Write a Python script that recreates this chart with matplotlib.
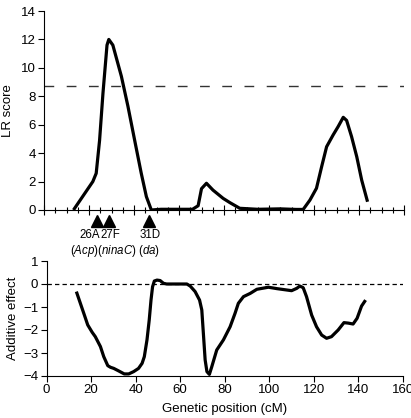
import matplotlib
matplotlib.use("Agg")
import matplotlib.pyplot as plt
from matplotlib.ticker import MultipleLocator

plt.rcParams['font.family'] = ['Liberation Sans', 'DejaVu Sans']
plt.rcParams['mathtext.fontset'] = 'custom'
plt.rcParams['mathtext.it'] = 'Liberation Sans:italic'
plt.rcParams['mathtext.rm'] = 'Liberation Sans'

# LR score profile
lr_x = [13.1, 21.7, 23.2, 24.7, 26.2, 28.0, 28.8, 30.6, 34.4, 37.3, 40.3, 43.2, 45.5, 47.7,
        52.0, 60.0, 66.0, 68.5, 70.0, 72.2, 75.1, 79.6, 82.6, 87.0, 95.0, 105.0, 112.0, 115.2,
        118.2, 121.1, 123.4, 125.6, 128.5, 130.7, 133.0, 134.5, 136.7, 139.0, 141.2, 143.8]
lr_y = [0.0, 2.0, 2.58, 4.9, 8.2, 11.6, 12.0, 11.6, 9.4, 7.3, 4.9, 2.6, 0.94, 0.0,
        0.05, 0.05, 0.05, 0.3, 1.5, 1.88, 1.4, 0.82, 0.52, 0.12, 0.05, 0.08, 0.04, 0.04,
        0.7, 1.53, 3.05, 4.45, 5.28, 5.86, 6.52, 6.3, 5.16, 3.75, 2.1, 0.58]
threshold = 8.7

# Additive effect profile
ae_x = [13.4, 15.2, 17.0, 18.5, 20.5, 21.9, 24.2, 25.7, 27.5, 28.7, 30.2, 32.4, 34.9, 36.9,
        39.1, 41.3, 42.9, 43.9, 45.1, 46.1, 46.9, 47.6, 48.4, 49.6, 51.0, 52.5, 53.9, 63.0,
        64.5, 66.7, 68.7, 69.7, 70.4, 71.2, 72.0, 73.1, 74.2, 76.4, 79.4, 82.4, 84.6, 86.1,
        88.4, 91.4, 94.4, 99.6, 103.3, 110.0, 112.3, 113.7, 115.2, 116.7, 119.0, 121.2, 123.5,
        125.7, 127.9, 130.9, 133.5, 135.4, 137.6, 139.4, 141.4, 143.2]
ae_y = [-0.33, -0.84, -1.35, -1.78, -2.1, -2.29, -2.72, -3.16, -3.55, -3.62, -3.67, -3.78, -3.91, -3.91,
        -3.81, -3.67, -3.45, -3.16, -2.43, -1.57, -0.7, -0.12, 0.13, 0.17, 0.15, 0.03, 0.0, 0.0,
        -0.09, -0.33, -0.7, -1.13, -2.14, -3.3, -3.81, -3.93, -3.59, -2.87, -2.43, -1.86, -1.28, -0.84,
        -0.55, -0.41, -0.23, -0.14, -0.2, -0.29, -0.19, -0.09, -0.16, -0.55, -1.35, -1.86, -2.22,
        -2.36, -2.29, -2.0, -1.68, -1.7, -1.74, -1.49, -0.96, -0.7]

# markers (cytological positions and genes)
marker_pos = [23.7, 28.8, 46.8]
marker_bands = ["26A", "27F", "31D"]
marker_genes = ["Acp", "ninaC", "da"]

fig = plt.figure(figsize=(4.11, 4.18), dpi=100)

W, H = 411, 418
ax1 = fig.add_axes([44 / W, 1 - 210 / H, (404 - 44) / W, (210 - 11) / H])
ax2 = fig.add_axes([46.5 / W, 1 - 376 / H, (403 - 46.5) / W, (376 - 261) / H])

fs = 9.5
# --- top panel
ax1.plot(lr_x, lr_y, color='black', lw=2.3, solid_joinstyle='round', solid_capstyle='butt')
ax1.axhline(threshold, color='#333333', lw=1.0, linestyle=(0, (7, 9)))
ax1.set_xlim(0, 160)
ax1.set_ylim(0, 14)
ax1.set_ylabel('LR score', fontsize=fs, labelpad=5)
ax1.yaxis.set_major_locator(MultipleLocator(2))
ax1.xaxis.set_major_locator(MultipleLocator(20))
ax1.xaxis.set_minor_locator(MultipleLocator(5))
ax1.tick_params(axis='x', which='major', direction='inout', length=7, width=0.8, labelbottom=False)
ax1.tick_params(axis='x', which='minor', direction='inout', length=4, width=0.8)
ax1.tick_params(axis='y', direction='out', length=4, width=0.8, labelsize=fs, pad=2)
for s in ['top', 'right']:
    ax1.spines[s].set_visible(False)
for s in ['left', 'bottom']:
    ax1.spines[s].set_linewidth(0.8)

ax1.plot(marker_pos, [-0.78] * 3, linestyle='none', marker='^', markersize=8.5,
         color='black', clip_on=False)
band_x = [20.2, 29.6, 47.1]
for x, t in zip(band_x, marker_bands):
    ax1.text(x, -1.75, t, ha='center', va='center', fontsize=8.3, clip_on=False)
gene_line = "(" + ")(".join("$\\it{" + g + "}$" for g in marker_genes[:2]) + ") ($\\it{" + marker_genes[2] + "}$)"
ax1.text(31.8, -2.9, gene_line, ha='center', va='center', fontsize=8.3, clip_on=False)

# --- bottom panel
ax2.plot(ae_x, ae_y, color='black', lw=2.3, solid_joinstyle='round', solid_capstyle='butt')
ax2.axhline(0, color='black', lw=0.9, linestyle=(0, (3.5, 2.5)))
ax2.set_xlim(0, 160)
ax2.set_ylim(-4, 1)
ax2.xaxis.set_major_locator(MultipleLocator(20))
ax2.yaxis.set_major_locator(MultipleLocator(1))
ax2.tick_params(direction='out', length=4, width=0.8, labelsize=fs, pad=2)
ax2.set_ylabel('Additive effect', fontsize=fs, labelpad=3)
ax2.set_xlabel('Genetic position (cM)', fontsize=fs, labelpad=5)
for s in ['top', 'right']:
    ax2.spines[s].set_visible(False)
for s in ['left', 'bottom']:
    ax2.spines[s].set_linewidth(0.8)

fig.savefig('out.png', dpi=100)
